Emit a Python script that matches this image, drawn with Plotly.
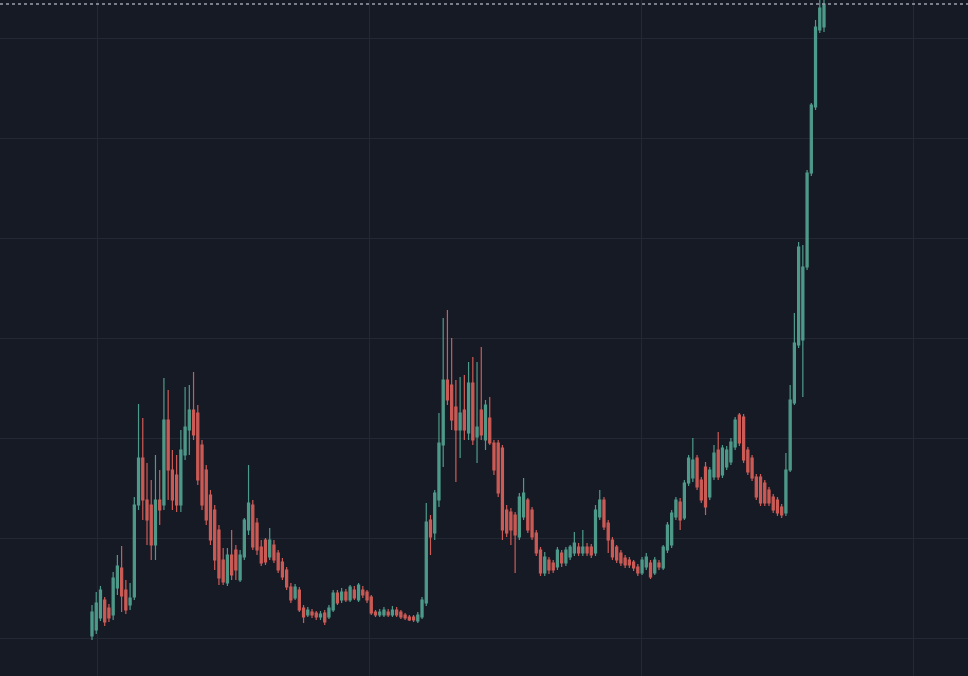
import plotly.graph_objects as go

# Candle index (one per bar)
OPEN = [102,108,120,138,130,123,150,170,148,133,141,233,280,238,233,193,238,233,318,268,
        263,233,283,308,328,325,293,268,243,228,208,178,155,183,188,158,181,208,233,215,
        191,198,181,193,185,176,168,151,140,148,130,123,126,125,121,125,121,128,145,138,
        146,138,148,138,148,146,141,126,123,123,126,123,128,126,123,121,121,117,121,135,
        218,205,238,293,358,353,331,308,328,305,355,301,328,298,320,295,295,290,228,226,
        223,201,221,238,228,205,188,165,178,175,171,185,175,181,185,191,185,191,191,185,
        221,238,215,198,191,185,180,178,176,171,165,171,175,165,175,170,188,193,221,236,
        220,255,260,280,258,271,241,261,288,263,271,276,291,323,321,288,280,261,261,255,
        248,241,238,231,225,268,335,393,398,471,565,631,708,711]
HIGH = [133,146,152,141,134,166,183,192,158,155,241,334,320,275,258,283,268,360,348,288,
        283,308,351,353,366,333,298,273,248,233,213,190,190,208,193,188,220,273,238,220,
        198,200,210,198,188,180,171,155,154,151,133,131,129,127,127,128,133,148,148,150,
        149,153,152,155,152,148,143,128,129,131,129,132,131,128,125,123,123,126,141,235,
        223,248,325,420,428,400,358,361,363,376,381,376,391,338,341,298,298,293,233,230,
        226,245,260,240,231,208,191,186,181,178,191,188,191,193,206,195,208,195,194,233,
        248,241,218,201,193,188,183,181,178,174,181,185,178,181,178,193,216,228,241,240,
        258,283,300,283,261,276,271,293,306,293,292,300,321,325,324,291,283,264,264,258,
        251,244,241,234,285,353,425,496,493,568,635,718,768,778]
LOW = [98,104,117,112,116,118,143,126,124,128,138,228,218,193,178,178,213,228,238,228,
       226,226,278,283,298,253,228,213,193,168,153,153,152,158,158,156,178,203,188,183,
       172,173,178,175,165,158,148,135,138,126,115,121,120,118,118,113,119,126,133,135,
       136,136,138,136,140,135,123,121,121,121,121,121,121,119,118,117,116,115,119,132,
       183,198,231,271,333,308,256,280,298,298,293,275,298,288,293,263,241,198,201,193,
       165,198,218,205,198,182,162,162,164,165,168,171,172,178,182,182,182,182,180,182,
       218,208,185,178,175,172,170,170,167,162,163,168,159,163,168,168,185,190,218,208,
       218,252,256,248,235,223,238,258,258,260,268,273,288,292,275,263,257,238,232,232,
       232,225,222,220,222,266,333,390,341,468,562,628,705,706]
CLOSE = [126,135,148,116,120,160,172,142,128,140,233,280,238,218,193,238,228,318,268,238,
         233,288,311,328,303,258,233,218,198,178,160,156,183,163,168,183,218,235,191,188,
         175,176,198,178,168,161,151,138,151,128,121,128,123,121,124,116,130,145,135,146,
         138,151,140,153,143,138,125,123,126,128,123,128,123,121,120,118,118,123,138,216,
         201,245,295,358,338,318,308,325,308,355,298,311,303,333,295,268,245,208,205,208,
         203,241,245,208,201,185,165,181,168,168,188,175,188,191,195,185,191,185,183,228,
         238,211,198,181,178,175,173,173,170,165,178,181,161,178,171,191,213,225,238,218,
         255,280,278,251,238,231,268,285,261,290,288,296,318,295,278,266,260,241,235,235,
         235,228,225,223,268,338,395,491,471,565,633,711,730,734]

UP_COLOR = "#55a895"
DOWN_COLOR = "#e0625b"
BG = "#161a25"
GRID = "#242834"

n = len(CLOSE)
idx = list(range(n))

fig = go.Figure()
fig.add_trace(go.Candlestick(
    x=idx, open=OPEN, high=HIGH, low=LOW, close=CLOSE,
    increasing=dict(line=dict(color=UP_COLOR, width=1.2), fillcolor=UP_COLOR),
    decreasing=dict(line=dict(color=DOWN_COLOR, width=1.2), fillcolor=DOWN_COLOR),
    whiskerwidth=0, opacity=0.9, showlegend=False,
))

# last price dotted line
fig.add_shape(type="line", xref="paper", x0=0, x1=1, yref="y",
              y0=CLOSE[-1], y1=CLOSE[-1],
              line=dict(color="#9aa0ac", width=1.5, dash="dot"))

# pixel mapping: first candle at px 92, last at px 824 in a 968-wide plot
px_per = (824 - 92) / (n - 1)
r0 = -92 / px_per
r1 = r0 + 968 / px_per

fig.update_layout(
    width=968, height=676,
    margin=dict(l=0, r=0, t=0, b=0),
    paper_bgcolor=BG, plot_bgcolor=BG,
    xaxis=dict(range=[r0, r1], showgrid=True, gridcolor=GRID, gridwidth=1,
               tick0=(97 - 92) / px_per, dtick=272 / px_per,
               showticklabels=False, zeroline=False, rangeslider=dict(visible=False),
               ticks=""),
    yaxis=dict(range=[62, 738], showgrid=True, gridcolor=GRID, gridwidth=1,
               tick0=0, dtick=100, showticklabels=False, zeroline=False, ticks=""),
)

fig.write_html("out.html",
               config={"displayModeBar": False},
               post_script="document.body.style.margin='0';document.body.style.background='#161a25';document.body.style.overflow='hidden';")
